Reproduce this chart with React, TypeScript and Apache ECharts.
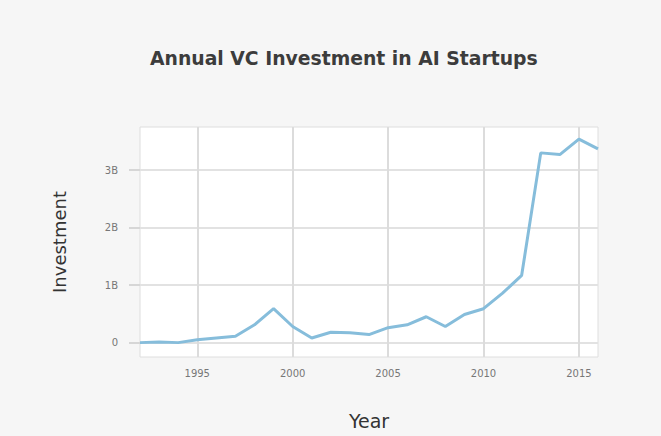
import React, { useEffect, useRef } from "react";
import * as echarts from "echarts";

const years = [
  1992, 1993, 1994, 1995, 1996, 1997, 1998, 1999, 2000, 2001, 2002, 2003, 2004,
  2005, 2006, 2007, 2008, 2009, 2010, 2011, 2012, 2013, 2014, 2015, 2016,
];
const investment = [
  0.0, 0.01, 0.0, 0.05, 0.08, 0.11, 0.31, 0.59, 0.28, 0.08, 0.18, 0.17, 0.14,
  0.26, 0.31, 0.45, 0.28, 0.49, 0.59, 0.86, 1.17, 3.3, 3.27, 3.54, 3.37,
];
const xTicks = [1995, 2000, 2005, 2010, 2015];
const yTicks = [0, 1, 2, 3];
const yTickLabels = ["0", "1B", "2B", "3B"];

export default function App() {
  const ref = useRef<HTMLDivElement>(null);
  useEffect(() => {
    if (!ref.current) return;
    const chart = echarts.init(ref.current, null, { renderer: "svg" });
    const font = "'DejaVu Sans', sans-serif";
    chart.setOption({
      animation: false,
      backgroundColor: "#f6f6f6",
      title: {
        text: "Annual VC Investment in AI Startups",
        left: 145,
        top: 44,
        textStyle: { fontFamily: font, fontSize: 18.8, fontWeight: "bold", color: "#3c3c3c" },
      },
      grid: {
        left: 140,
        right: 63,
        top: 127,
        bottom: 79,
        show: true,
        backgroundColor: "#ffffff",
        borderColor: "#dedede",
        borderWidth: 1,
      },
      xAxis: {
        type: "value",
        min: 1992,
        max: 2016,
        name: "Year",
        nameLocation: "middle",
        nameGap: 54,
        nameTextStyle: { fontFamily: font, fontSize: 19, color: "#333" },
        axisLine: { show: false },
        axisTick: { show: false, customValues: xTicks },
        axisLabel: {
          customValues: xTicks,
          fontFamily: font,
          fontSize: 10,
          color: "#777",
          margin: 11,
          formatter: (v: number) => String(v),
        },
        splitLine: { show: true, lineStyle: { color: "#dcdcdc", width: 2 } },
      },
      yAxis: {
        type: "value",
        min: -0.25,
        max: 3.75,
        name: "Investment",
        nameLocation: "middle",
        nameGap: 72,
        nameTextStyle: { fontFamily: font, fontSize: 18, color: "#333" },
        axisLine: { show: false },
        axisTick: { show: true, customValues: yTicks, length: 11, lineStyle: { color: "#d6d6d6", width: 2 } },
        axisLabel: {
          customValues: yTicks,
          fontFamily: font,
          fontSize: 10,
          color: "#777",
          margin: 22,
          formatter: (v: number) => yTickLabels[yTicks.indexOf(Math.round(v))] ?? "",
        },
        splitLine: { show: true, lineStyle: { color: "#e2e2e2", width: 2 } },
      },
      series: [
        {
          type: "line",
          data: years.map((y, i) => [y, investment[i]]),
          showSymbol: false,
          lineStyle: { color: "#86bddb", width: 3 },
          itemStyle: { color: "#86bddb" },
        },
      ],
    });
    return () => chart.dispose();
  }, []);
  return (
    <div
      ref={ref}
      style={{ position: "fixed", left: 0, top: 0, width: 661, height: 436 }}
    />
  );
}
